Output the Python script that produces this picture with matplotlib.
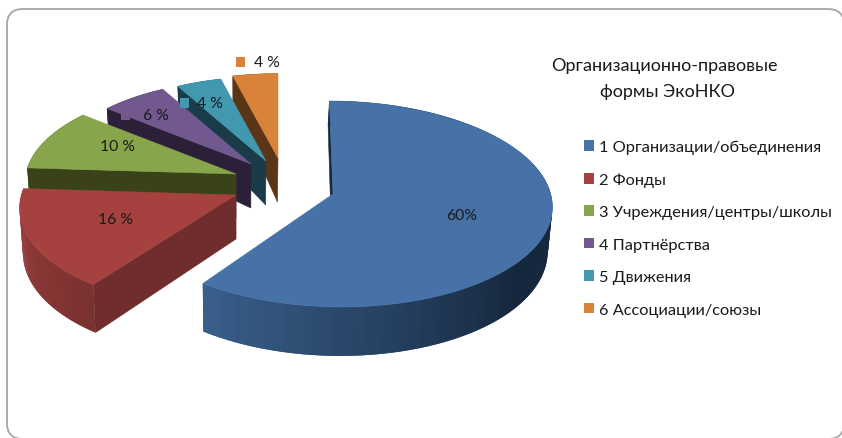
import numpy as np
import matplotlib
matplotlib.use('Agg')
import matplotlib.pyplot as plt
from matplotlib.patches import FancyBboxPatch, Polygon, Patch, Rectangle
from matplotlib.colors import to_rgb

plt.rcParams['font.family'] = ['Lato', 'Open Sans', 'DejaVu Sans']

## Data ##
categories = ['1 Организации/объединения', '2 Фонды', '3 Учреждения/центры/школы',
              '4 Партнёрства', '5 Движения', '6 Ассоциации/союзы']
values = [60, 16, 10, 6, 4, 4]
value_labels = ['60%', '16 %', '10 %', '6 %', '4 %', '4 %']
title_lines = ['Организационно-правовые', 'формы ЭкоНКО']

## Styles ##
top_colors = ['#4672a8', '#a5423f', '#87a54a', '#71588f', '#4198af', '#d9833a']
side_colors = ['#16283e', '#6f2d2d', '#3a4219', '#2b2038', '#1a3c49', '#5a3516']
arc_start_colors = ['#16283e', '#7a3130', '#3a4219', '#2b2038', '#1a3c49', '#5a3516']
arc_end_colors = ['#3a608e', '#9c3e3c', '#3a4219', '#2b2038', '#1a3c49', '#5a3516']

# position of every exploded slice (pixels)
apex_x = [333, 236, 236, 251, 266, 278]
apex_y = [195, 196, 175, 165, 162, 159]
radius = [1.0, 1.0, 0.96, 0.9, 0.9, 0.9]
shear = [-0.06, 0.065, 0.0, 0.0, 0.0, 0.0]
xscale = [0.985, 0.98, 1.0, 1.0, 1.0, 1.0]
arc_dx = [2, 0, 0, 0, 0, 0]

label_x = [462, 116, 118, 156, 210, 267]
label_y = [216, 220, 147, 116, 104, 63]
key_x = [433, 85, 87, 125, 184, 240]


def project(theta, i):
    # theta clockwise from the top, perspective on the disc
    X = radius[i] * np.sin(theta)
    Y = radius[i] * np.cos(theta)
    den = 1 + 0.097 * Y
    sy = 102 * Y / den
    sx = 219 * xscale[i] * X / den + shear[i] * sy
    return apex_x[i] + arc_dx[i] + sx, apex_y[i] - sy, Y


def lower(x, y, Y):
    # points under the disc, thinner towards the back
    Y = np.asarray(Y, dtype=float)
    d = np.where(Y >= 0, 44 - 20 * Y, 44 - 5 * Y)
    return 240 + (x - 240) * 0.985, y + d


fig = plt.figure(figsize=(8.42, 4.39), dpi=100)
ax = fig.add_axes([0, 0, 1, 1])
ax.set_xlim(0, 842)
ax.set_ylim(439, 0)
ax.axis('off')

frame = FancyBboxPatch((7, 10), 837, 430, boxstyle='round,pad=0,rounding_size=16',
                       fc='white', ec='#a6a6a6', lw=1.3, zorder=1)
ax.add_patch(frame)

bounds = np.cumsum([0] + values) / sum(values) * 2 * np.pi

# back slices first
for i in range(len(values) - 1, -1, -1):
    th = np.linspace(bounds[i], bounds[i + 1], 90)
    x, y, Y = project(th, i)
    xb, yb = lower(x, y, Y)
    c0 = np.array(to_rgb(arc_start_colors[i]))
    c1 = np.array(to_rgb(arc_end_colors[i]))
    # outer wall, in small overlapping pieces for the shading
    for k in range(len(th) - 1):
        if i == 0:
            t = np.clip((np.degrees(th[k]) - 130) / 86, 0, 1)
        else:
            t = k / (len(th) - 2)
        col = c0 + (c1 - c0) * t
        n = min(k + 2, len(th) - 1)
        ax.add_patch(Polygon([(x[k], y[k]), (x[n], y[n]), (xb[n], yb[n]), (xb[k], yb[k])],
                             fc=col, ec='none', zorder=2 + 2 * (6 - i)))
    # flat wall at the start of the slice
    ax0, ay0 = apex_x[i], apex_y[i]
    axb, ayb = lower(ax0, ay0, 0.0)
    ax.add_patch(Polygon([(ax0, ay0), (x[0], y[0]), (xb[0], yb[0]), (axb, ayb)],
                         fc=side_colors[i], ec=side_colors[i], lw=0.4, zorder=2 + 2 * (6 - i)))
    # top of the slice
    ax.add_patch(Polygon(np.r_[[[ax0, ay0]], np.c_[x, y]], fc=top_colors[i], ec=top_colors[i],
                         lw=0.4, zorder=3 + 2 * (6 - i)))

# data labels with their small keys
for i in range(len(values)):
    ax.text(label_x[i], label_y[i], value_labels[i], fontsize=11.3, ha='center', va='center',
            color='#1a1a1a', zorder=30)
    ax.add_patch(Rectangle((key_x[i] - 4.5, label_y[i] - 5), 9, 10, fc=top_colors[i], ec='none', zorder=29))

ax.text(664, 66, title_lines[0], fontsize=13, ha='center', va='center', color='#1a1a1a', zorder=30)
ax.text(668, 92, title_lines[1], fontsize=13, ha='center', va='center', color='#1a1a1a', zorder=30)

handles = [Patch(fc=c, ec='none') for c in top_colors]
ax.legend(handles, categories, loc='upper left', bbox_to_anchor=(581, 137.5),
          bbox_transform=ax.transData, frameon=False, fontsize=11.75, labelspacing=1.13,
          handlelength=0.58, handleheight=0.62, handletextpad=0.32, labelcolor='#1a1a1a',
          borderpad=0.2, borderaxespad=0)

fig.savefig('out.png', dpi=100)
